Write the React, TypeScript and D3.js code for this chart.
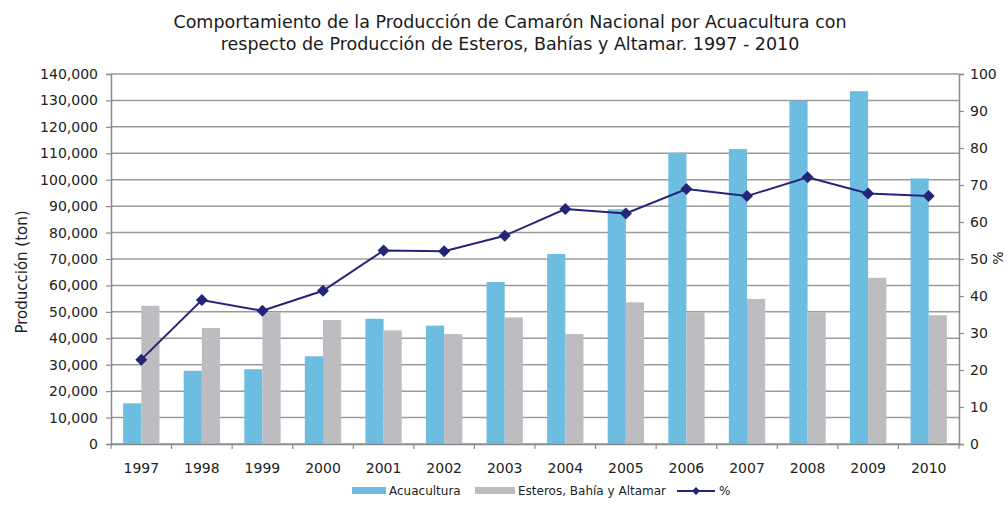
import React, { useEffect, useRef } from 'react';
import * as d3 from 'd3';

const years = ['1997', '1998', '1999', '2000', '2001', '2002', '2003', '2004', '2005', '2006', '2007', '2008', '2009', '2010'];
const acuacultura = [15400, 27700, 28300, 33200, 47400, 44800, 61300, 71900, 88800, 110200, 111600, 129900, 133500, 100500];
const esteros = [52300, 43900, 49800, 46900, 43000, 41600, 47900, 41600, 53600, 49800, 54900, 49800, 62900, 48700];
const porcentaje = [22.8, 38.9, 36.0, 41.4, 52.3, 52.1, 56.3, 63.5, 62.3, 68.9, 67.0, 72.1, 67.7, 67.0];
const leftTicks = [0, 10000, 20000, 30000, 40000, 50000, 60000, 70000, 80000, 90000, 100000, 110000, 120000, 130000, 140000];
const rightTicks = [0, 10, 20, 30, 40, 50, 60, 70, 80, 90, 100];

const titleLines = [
  'Comportamiento de la Producción de Camarón Nacional por Acuacultura con',
  'respecto de Producción de Esteros, Bahías y Altamar. 1997 - 2010',
];

const BLUE = '#6cbde0';
const GRAY = '#bdbdc1';
const NAVY = '#24247a';
const GRID = '#9a9a9a';
const FONT = 'DejaVu Sans, sans-serif';

const App = () => {
  const svgRef = useRef<SVGSVGElement>(null);

  useEffect(() => {
    const width = 1008, height = 506;
    const margin = { top: 74, right: 49, bottom: 62, left: 111 };
    const svg = d3.select(svgRef.current);
    svg.selectAll('*').remove();

    const x0 = d3.scaleBand().domain(years).range([margin.left, width - margin.right]).padding(0);
    const inner = x0.bandwidth() * 0.6;
    const x1 = d3.scaleBand().domain(['acu', 'est']).range([0, inner]);
    const y = d3.scaleLinear().domain([0, 140000]).range([height - margin.bottom, margin.top]);
    const y2 = d3.scaleLinear().domain([0, 100]).range([height - margin.bottom, margin.top]);
    const bottom = height - margin.bottom;
    const right = width - margin.right;

    // title
    svg.append('g').selectAll('text').data(titleLines).enter().append('text')
      .attr('x', 510).attr('y', (d, i) => 28 + i * 22)
      .attr('text-anchor', 'middle')
      .style('font-family', FONT).style('font-size', '17.5px').attr('fill', '#1a1a1a')
      .text(d => d);

    // grid
    svg.append('g').selectAll('line').data(leftTicks).enter().append('line')
      .attr('x1', margin.left).attr('x2', right)
      .attr('y1', d => y(d)).attr('y2', d => y(d))
      .attr('stroke', GRID).attr('stroke-width', 1.5);

    // bars
    const groups = svg.append('g').selectAll('g').data(years).enter().append('g')
      .attr('transform', d => 'translate(' + (x0(d)! + (x0.bandwidth() - inner) / 2) + ',0)');
    groups.append('rect')
      .attr('x', x1('acu')!).attr('width', x1.bandwidth())
      .attr('y', (d, i) => y(acuacultura[i])).attr('height', (d, i) => bottom - y(acuacultura[i]))
      .attr('fill', BLUE);
    groups.append('rect')
      .attr('x', x1('est')!).attr('width', x1.bandwidth())
      .attr('y', (d, i) => y(esteros[i])).attr('height', (d, i) => bottom - y(esteros[i]))
      .attr('fill', GRAY);

    // axes
    const axisStyle = (g: any) => {
      g.select('.domain').attr('stroke', '#8a8a8a').attr('stroke-width', 1.5);
      g.selectAll('.tick line').attr('stroke', '#8a8a8a').attr('stroke-width', 1.2);
      g.selectAll('.tick text').style('font-family', FONT).style('font-size', '14px').attr('fill', '#222');
    };
    svg.append('g').attr('transform', 'translate(' + margin.left + ',0)')
      .call(d3.axisLeft(y).tickValues(leftTicks).tickFormat(d3.format(',')).tickSizeOuter(0).tickSize(5).tickPadding(8))
      .call(axisStyle);
    svg.append('g').attr('transform', 'translate(' + right + ',0)')
      .call(d3.axisRight(y2).tickValues(rightTicks).tickSizeOuter(0).tickSize(5).tickPadding(6))
      .call(axisStyle);
    svg.append('g').attr('transform', 'translate(0,' + bottom + ')')
      .call(d3.axisBottom(x0).tickSize(0).tickSizeOuter(0).tickPadding(19))
      .call(axisStyle);
    // category boundary ticks
    svg.append('g').selectAll('line').data(years.concat(['end'])).enter().append('line')
      .attr('x1', (d, i) => margin.left + i * x0.bandwidth()).attr('x2', (d, i) => margin.left + i * x0.bandwidth())
      .attr('y1', bottom).attr('y2', bottom + 5)
      .attr('stroke', '#8a8a8a').attr('stroke-width', 1.2);

    // line series
    const cx = (i: number) => x0(years[i])! + x0.bandwidth() / 2;
    const line = d3.line<number>().x((d, i) => cx(i)).y(d => y2(d));
    svg.append('path').datum(porcentaje).attr('d', line)
      .attr('fill', 'none').attr('stroke', NAVY).attr('stroke-width', 2);
    svg.append('g').selectAll('path').data(porcentaje).enter().append('path')
      .attr('d', d3.symbol(d3.symbolSquare, 72))
      .attr('transform', (d, i) => 'translate(' + cx(i) + ',' + y2(d) + ') rotate(45)')
      .attr('fill', NAVY);

    // axis titles
    svg.append('text')
      .attr('transform', 'translate(27,272) rotate(-90)')
      .attr('text-anchor', 'middle')
      .style('font-family', FONT).style('font-size', '15px').attr('fill', '#222')
      .text('Producción (ton)');
    svg.append('text')
      .attr('transform', 'translate(1003,258) rotate(-90)')
      .attr('text-anchor', 'middle')
      .style('font-family', FONT).style('font-size', '14px').attr('fill', '#222')
      .text('%');

    // legend
    const lg = svg.append('g').attr('transform', 'translate(0,491)');
    lg.append('rect').attr('x', 352).attr('y', -4).attr('width', 34).attr('height', 7).attr('fill', BLUE);
    lg.append('text').attr('x', 389).attr('y', 4).style('font-family', FONT).style('font-size', '12px').attr('fill', '#222').text('Acuacultura');
    lg.append('rect').attr('x', 475).attr('y', -4).attr('width', 40).attr('height', 7).attr('fill', GRAY);
    lg.append('text').attr('x', 518).attr('y', 4).style('font-family', FONT).style('font-size', '12px').attr('fill', '#222').text('Esteros, Bahía y Altamar');
    lg.append('line').attr('x1', 677).attr('x2', 715).attr('y1', 0).attr('y2', 0).attr('stroke', NAVY).attr('stroke-width', 2);
    lg.append('path').attr('d', d3.symbol(d3.symbolSquare, 32)).attr('transform', 'translate(696,0) rotate(45)').attr('fill', NAVY);
    lg.append('text').attr('x', 719).attr('y', 4).style('font-family', FONT).style('font-size', '12px').attr('fill', '#222').text('%');
  }, []);

  return (
    <svg ref={svgRef} width={1008} height={506}
      style={{ position: 'absolute', left: 0, top: 0, background: '#fff' }} />
  );
};

export default App;
